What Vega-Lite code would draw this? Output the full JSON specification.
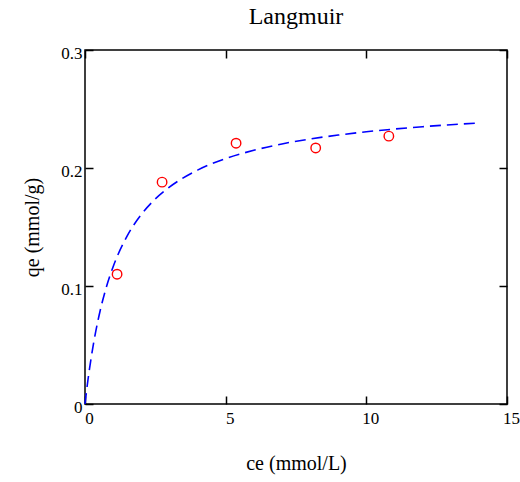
{
  "$schema": "https://vega.github.io/schema/vega-lite/v6.json",
  "width": 422,
  "height": 354,
  "autosize": "none",
  "padding": {"left": 85, "top": 50, "right": 13, "bottom": 78},
  "background": "white",
  "title": {"text": "Langmuir", "font": "Liberation Serif", "fontSize": 24, "fontWeight": "normal", "color": "black", "baseline": "alphabetic", "offset": -4, "anchor": "middle"},
  "config": {
    "view": {"stroke": "black", "strokeWidth": 1.5},
    "axis": {
      "labelFont": "Liberation Serif", "labelFontSize": 17, "labelColor": "black",
      "titleFont": "Liberation Serif", "titleFontSize": 20, "titleFontWeight": "normal", "titleColor": "black",
      "grid": false, "domain": false, "tickColor": "black", "tickWidth": 1.5, "tickSize": -8,
      "labelFlush": false, "labelOverlap": false
    }
  },
  "layer": [
    {
      "data": {"values": [
        {"ce": 0, "qe": 0},
        {"ce": 0.1, "qe": 0.0195},
        {"ce": 0.25, "qe": 0.0438},
        {"ce": 0.5, "qe": 0.075},
        {"ce": 0.75, "qe": 0.0983},
        {"ce": 1, "qe": 0.1163},
        {"ce": 1.5, "qe": 0.1425},
        {"ce": 2, "qe": 0.1605},
        {"ce": 2.5, "qe": 0.1738},
        {"ce": 3, "qe": 0.1838},
        {"ce": 4, "qe": 0.1982},
        {"ce": 5, "qe": 0.208},
        {"ce": 6, "qe": 0.215},
        {"ce": 7, "qe": 0.2204},
        {"ce": 8, "qe": 0.2246},
        {"ce": 9, "qe": 0.2279},
        {"ce": 10, "qe": 0.2307},
        {"ce": 11, "qe": 0.233},
        {"ce": 12, "qe": 0.235},
        {"ce": 13, "qe": 0.2367},
        {"ce": 14, "qe": 0.2381}
      ]},
      "mark": {"type": "line", "color": "#0000ff", "strokeDash": [11, 6], "strokeWidth": 1.6, "interpolate": "monotone"},
      "encoding": {
        "x": {"field": "ce", "type": "quantitative", "scale": {"domain": [0, 15], "nice": false},
              "axis": {"orient": "bottom", "values": [0, 5, 10, 15], "title": "ce (mmol/L)", "labelPadding": 14, "labelOffset": 4, "titlePadding": 27}},
        "y": {"field": "qe", "type": "quantitative", "scale": {"domain": [0, 0.3], "nice": false},
              "axis": {"orient": "left", "values": [0, 0.1, 0.2, 0.3], "format": ".1~f", "title": "qe (mmol/g)", "labelPadding": 11, "labelOffset": 3, "titlePadding": 18}}
      }
    },
    {
      "data": {"values": [
        {"ce": 1.14, "qe": 0.110},
        {"ce": 2.74, "qe": 0.188},
        {"ce": 5.37, "qe": 0.221},
        {"ce": 8.2, "qe": 0.217},
        {"ce": 10.8, "qe": 0.227}
      ]},
      "mark": {"type": "point", "shape": "circle", "color": "#ff0000", "filled": false, "size": 90, "strokeWidth": 1.4, "opacity": 1},
      "encoding": {
        "x": {"field": "ce", "type": "quantitative", "scale": {"domain": [0, 15], "nice": false},
              "axis": {"orient": "top", "values": [0, 5, 10, 15], "labels": false, "title": null}},
        "y": {"field": "qe", "type": "quantitative", "scale": {"domain": [0, 0.3], "nice": false},
              "axis": {"orient": "right", "values": [0, 0.1, 0.2, 0.3], "labels": false, "title": null}}
      }
    }
  ],
  "resolve": {"axis": {"x": "independent", "y": "independent"}}
}
